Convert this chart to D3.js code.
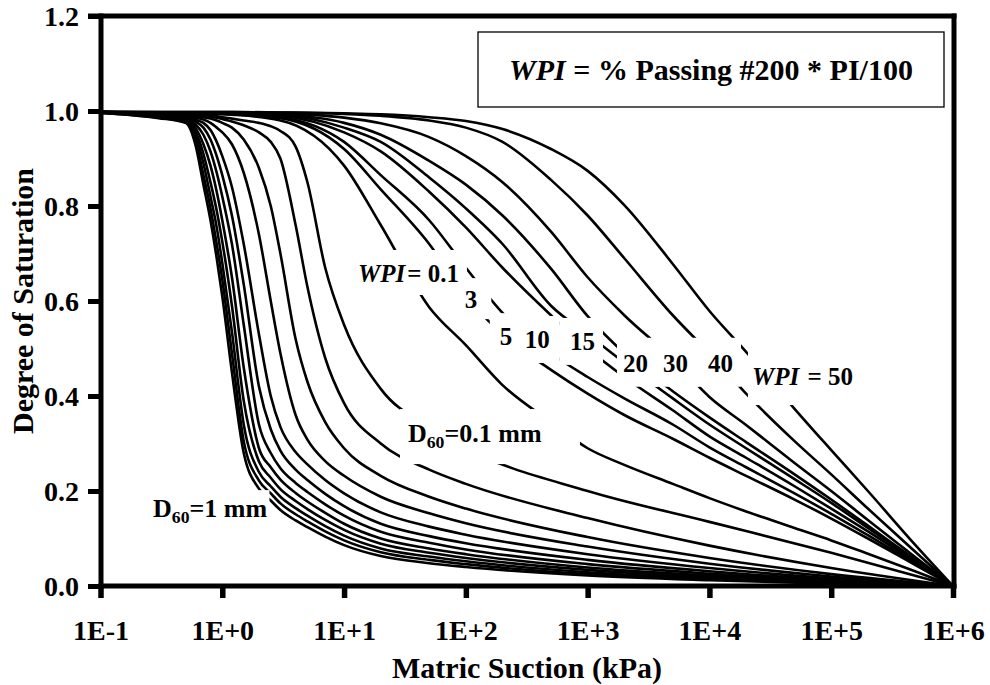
<!DOCTYPE html>
<html>
<head>
<meta charset="utf-8">
<script src="https://cdn.jsdelivr.net/npm/d3@7/dist/d3.min.js"></script>
<style>
  body { margin: 0; background: #fff; }
  svg { font-family: "Liberation Serif", "Times New Roman", serif; font-weight: bold; }
</style>
</head>
<body>
<svg id="chart" width="990" height="685"></svg>
<script>
// suction grid (kPa) for the granular (D60) curves
var granularSuction = [0.1, 0.3, 0.5, 0.6, 0.7, 0.8, 0.9, 1, 1.2, 1.5, 2, 2.5, 3, 4, 5, 7, 10, 20, 50, 100, 1e3, 1e4, 1e5, 1e6];
// degree of saturation, D60 = 1 mm (first) ... D60 = 0.1 mm (last)
var granularSat = [
  [0.996, 0.985, 0.975, 0.93, 0.845, 0.77, 0.69, 0.61, 0.45, 0.28, 0.205, 0.18, 0.16, 0.138, 0.124, 0.104, 0.086, 0.063, 0.048, 0.04, 0.022, 0.012, 0.005, 0],
  [0.996, 0.986, 0.976, 0.94, 0.865, 0.795, 0.72, 0.645, 0.49, 0.305, 0.222, 0.195, 0.174, 0.151, 0.136, 0.115, 0.096, 0.071, 0.055, 0.046, 0.025, 0.014, 0.006, 0],
  [0.997, 0.987, 0.977, 0.95, 0.89, 0.82, 0.755, 0.68, 0.535, 0.34, 0.24, 0.21, 0.188, 0.164, 0.148, 0.126, 0.106, 0.079, 0.062, 0.052, 0.029, 0.016, 0.007, 0],
  [0.997, 0.988, 0.979, 0.958, 0.91, 0.85, 0.79, 0.725, 0.59, 0.39, 0.262, 0.228, 0.204, 0.179, 0.162, 0.139, 0.118, 0.089, 0.07, 0.059, 0.034, 0.019, 0.008, 0],
  [0.997, 0.989, 0.981, 0.965, 0.93, 0.885, 0.83, 0.77, 0.65, 0.46, 0.29, 0.25, 0.224, 0.196, 0.178, 0.154, 0.131, 0.1, 0.079, 0.067, 0.039, 0.022, 0.009, 0],
  [0.998, 0.99, 0.983, 0.972, 0.95, 0.915, 0.87, 0.82, 0.72, 0.55, 0.34, 0.28, 0.248, 0.217, 0.198, 0.172, 0.148, 0.114, 0.091, 0.077, 0.046, 0.026, 0.011, 0],
  [0.998, 0.991, 0.985, 0.978, 0.965, 0.94, 0.905, 0.865, 0.78, 0.635, 0.42, 0.33, 0.285, 0.245, 0.223, 0.194, 0.168, 0.131, 0.105, 0.09, 0.055, 0.031, 0.013, 0],
  [0.998, 0.992, 0.987, 0.982, 0.975, 0.96, 0.935, 0.905, 0.84, 0.72, 0.53, 0.4, 0.335, 0.282, 0.256, 0.223, 0.195, 0.155, 0.125, 0.108, 0.067, 0.038, 0.016, 0],
  [0.998, 0.993, 0.989, 0.986, 0.982, 0.975, 0.965, 0.955, 0.93, 0.87, 0.74, 0.6, 0.49, 0.36, 0.308, 0.263, 0.232, 0.188, 0.153, 0.132, 0.083, 0.047, 0.02, 0],
  [0.998, 0.994, 0.991, 0.989, 0.987, 0.984, 0.98, 0.975, 0.965, 0.94, 0.88, 0.8, 0.7, 0.52, 0.43, 0.345, 0.29, 0.232, 0.188, 0.163, 0.103, 0.059, 0.025, 0],
  [0.998, 0.995, 0.993, 0.991, 0.99, 0.988, 0.986, 0.983, 0.978, 0.97, 0.955, 0.935, 0.9, 0.76, 0.63, 0.48, 0.385, 0.3, 0.245, 0.215, 0.143, 0.085, 0.038, 0],
  [0.998, 0.996, 0.994, 0.993, 0.992, 0.991, 0.989, 0.987, 0.984, 0.98, 0.975, 0.968, 0.958, 0.925, 0.85, 0.67, 0.55, 0.415, 0.335, 0.29, 0.2, 0.135, 0.07, 0]
];

// suction grid (kPa) for the plastic (WPI) curves
var plasticSuction = [0.1, 1, 3, 10, 20, 50, 100, 200, 500, 1e3, 2e3, 5e3, 1e4, 2e4, 5e4, 1e5, 2e5, 5e5, 1e6];
var wpiValues = [0.1, 3, 5, 10, 15, 20, 30, 40, 50];
var plasticSat = [
  [0.998, 0.993, 0.98, 0.885, 0.76, 0.587, 0.507, 0.423, 0.345, 0.29, 0.255, 0.215, 0.185, 0.157, 0.122, 0.096, 0.068, 0.03, 0],
  [0.998, 0.994, 0.985, 0.92, 0.835, 0.72, 0.61, 0.53, 0.455, 0.405, 0.36, 0.31, 0.27, 0.232, 0.182, 0.142, 0.1, 0.043, 0],
  [0.998, 0.995, 0.987, 0.935, 0.865, 0.77, 0.67, 0.575, 0.49, 0.44, 0.395, 0.34, 0.292, 0.25, 0.195, 0.152, 0.107, 0.046, 0],
  [0.998, 0.996, 0.99, 0.955, 0.915, 0.83, 0.755, 0.67, 0.57, 0.5, 0.44, 0.37, 0.315, 0.27, 0.21, 0.163, 0.115, 0.049, 0],
  [0.998, 0.996, 0.992, 0.965, 0.935, 0.86, 0.795, 0.72, 0.59, 0.53, 0.47, 0.395, 0.34, 0.29, 0.225, 0.175, 0.122, 0.052, 0],
  [0.998, 0.997, 0.993, 0.975, 0.95, 0.895, 0.845, 0.78, 0.668, 0.568, 0.49, 0.41, 0.355, 0.303, 0.235, 0.182, 0.127, 0.054, 0],
  [0.998, 0.997, 0.995, 0.986, 0.974, 0.945, 0.905, 0.85, 0.746, 0.65, 0.57, 0.478, 0.398, 0.339, 0.259, 0.2, 0.139, 0.059, 0],
  [0.998, 0.998, 0.997, 0.994, 0.99, 0.98, 0.965, 0.935, 0.855, 0.78, 0.69, 0.57, 0.49, 0.405, 0.305, 0.235, 0.163, 0.07, 0],
  [0.998, 0.998, 0.997, 0.995, 0.993, 0.987, 0.979, 0.962, 0.92, 0.874, 0.802, 0.678, 0.579, 0.493, 0.373, 0.286, 0.2, 0.084, 0]
];

var xTicks = [0.1, 1, 10, 100, 1e3, 1e4, 1e5, 1e6];
var xTickLabels = ["1E-1", "1E+0", "1E+1", "1E+2", "1E+3", "1E+4", "1E+5", "1E+6"];
var yTicks = [0, 0.2, 0.4, 0.6, 0.8, 1.0, 1.2];

// curve labels, anchored at (suction, saturation); pad = white box margins [l, t, r, b]
var labels = [
  { parts: [["WPI", "italic"], ["= 0.1", ""]], s: 13, sat: 0.64, size: 25, pad: [6, 10, 8, 8] },
  { parts: [["3", ""]], s: 98, sat: 0.585, size: 25, pad: [14, 8, 14, 6] },
  { parts: [["5", ""]], s: 190, sat: 0.507, size: 25, pad: [10, 10, 7, 10] },
  { parts: [["10", ""]], s: 305, sat: 0.501, size: 25, pad: [7, 10, 10, 10] },
  { parts: [["15", ""]], s: 716, sat: 0.497, size: 25, pad: [10, 10, 8, 10] },
  { parts: [["20", ""]], s: 1950, sat: 0.451, size: 25, pad: [6, 12, 10, 10] },
  { parts: [["30", ""]], s: 4150, sat: 0.451, size: 25, pad: [10, 12, 11, 10] },
  { parts: [["40", ""]], s: 9730, sat: 0.451, size: 25, pad: [11, 12, 8, 10] },
  { parts: [["WPI", "italic"], [" = 50", ""]], s: 22340, sat: 0.423, size: 25, pad: [4, 17, 8, 15] },
  { parts: [["D", ""], ["60", "sub"], ["=0.1 mm", ""]], s: 33.5, sat: 0.303, size: 26, pad: [8, 10, 38, 12] },
  { parts: [["D", ""], ["60", "sub"], ["=1 mm", ""]], s: 0.27, sat: 0.145, size: 26, pad: [4, 4, 2, 4] }
];

var svg = d3.select("#chart");

var x = d3.scaleLog().domain([0.1, 1e6]).range([100.5, 953]);
var y = d3.scaleLinear().domain([0, 1.2]).range([586, 16]);

var line = d3.line()
  .x(function (d) { return x(d[0]); })
  .y(function (d) { return y(d[1]); })
  .curve(d3.curveMonotoneX);

var curves = [];
granularSat.forEach(function (row) {
  curves.push(row.map(function (v, i) { return [granularSuction[i], v]; }));
});
plasticSat.forEach(function (row) {
  curves.push(row.map(function (v, i) { return [plasticSuction[i], v]; }));
});

svg.append("g")
  .selectAll("path")
  .data(curves)
  .enter()
  .append("path")
  .attr("d", line)
  .attr("fill", "none")
  .attr("stroke", "#000")
  .attr("stroke-width", 2.6);

// labels with white boxes that cut the curves
var labelG = svg.append("g");
var rectG = labelG.append("g");
var textG = labelG.append("g");
labels.forEach(function (lb) {
  var rect = rectG.append("rect").attr("fill", "#fff");
  var t = textG.append("text")
    .attr("x", x(lb.s))
    .attr("y", y(lb.sat))
    .attr("font-size", lb.size);
  lb.parts.forEach(function (p, i) {
    var ts = t.append("tspan").text(p[0]);
    if (p[1] == "italic") ts.attr("font-style", "italic");
    if (p[1] == "sub") ts.attr("font-size", lb.size * 0.68).attr("dy", 6);
    if (i > 0 && lb.parts[i - 1][1] == "sub") ts.attr("dy", -6);
    if (i > 0 && lb.parts[i - 1][1] == "italic") ts.attr("dx", 2);
  });
  var bb = t.node().getBBox();
  rect.attr("x", bb.x - lb.pad[0])
    .attr("y", bb.y - lb.pad[1])
    .attr("width", bb.width + lb.pad[0] + lb.pad[2])
    .attr("height", bb.height + lb.pad[1] + lb.pad[3]);
});

// formula box
var boxG = svg.append("g");
boxG.append("rect")
  .attr("x", 478).attr("y", 32)
  .attr("width", 466).attr("height", 75)
  .attr("fill", "#fff")
  .attr("stroke", "#000")
  .attr("stroke-width", 1.3);
var bt = boxG.append("text")
  .attr("x", 711).attr("y", 80)
  .attr("text-anchor", "middle")
  .attr("font-size", 30);
bt.append("tspan").attr("font-style", "italic").text("WPI");
bt.append("tspan").text(" = % Passing #200 * PI/100");

// axes
var xAxis = svg.append("g")
  .attr("transform", "translate(0,586)")
  .call(d3.axisBottom(x)
    .tickValues(xTicks)
    .tickFormat(function (d, i) { return xTickLabels[i]; })
    .tickSizeInner(12)
    .tickSizeOuter(0));
xAxis.select(".domain").remove();
xAxis.selectAll(".tick line").attr("stroke", "#000").attr("stroke-width", 5.5);
xAxis.selectAll(".tick text")
  .attr("y", 54).attr("dy", null)
  .attr("fill", "#000")
  .attr("font-family", "Liberation Serif")
  .attr("font-weight", "bold")
  .attr("font-size", 28);

var yAxis = svg.append("g")
  .attr("transform", "translate(101,0)")
  .call(d3.axisLeft(y)
    .tickValues(yTicks)
    .tickFormat(d3.format(".1f"))
    .tickSizeInner(13)
    .tickSizeOuter(0));
yAxis.select(".domain").remove();
yAxis.selectAll(".tick line").attr("stroke", "#000").attr("stroke-width", 5);
yAxis.selectAll(".tick text")
  .attr("x", -22)
  .attr("dy", "0.34em")
  .attr("fill", "#000")
  .attr("font-family", "Liberation Serif")
  .attr("font-weight", "bold")
  .attr("font-size", 28);

// frame
var frame = [
  [101, 13.5, 101, 588.5],
  [98.5, 586, 956.5, 586],
  [88, 16, 956.5, 16],
  [954, 13.5, 954, 588.5]
];
svg.append("g")
  .selectAll("line")
  .data(frame)
  .enter()
  .append("line")
  .attr("x1", function (d) { return d[0]; })
  .attr("y1", function (d) { return d[1]; })
  .attr("x2", function (d) { return d[2]; })
  .attr("y2", function (d) { return d[3]; })
  .attr("stroke", "#000")
  .attr("stroke-width", 5);

// axis titles
svg.append("text")
  .attr("x", 527).attr("y", 678)
  .attr("text-anchor", "middle")
  .attr("font-size", 30)
  .text("Matric Suction (kPa)");

svg.append("text")
  .attr("transform", "translate(33,301) rotate(-90)")
  .attr("text-anchor", "middle")
  .attr("font-size", 30)
  .text("Degree of Saturation");
</script>
</body>
</html>
